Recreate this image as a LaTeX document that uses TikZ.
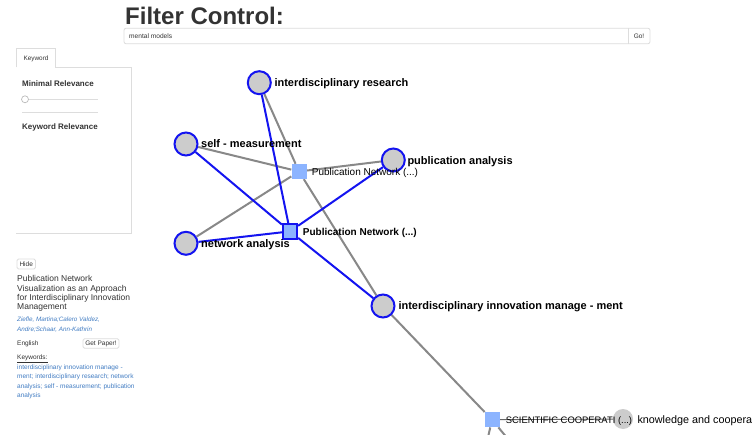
\documentclass[tikz,border=0pt]{standalone}
\usepackage{fontspec}
\setmainfont{Liberation Sans}
\definecolor{nodeblue}{RGB}{20,20,240}
\definecolor{edgegray}{RGB}{136,136,136}
\definecolor{nodefill}{RGB}{204,204,204}
\definecolor{pubfill}{RGB}{140,180,255}
\definecolor{panelline}{RGB}{221,221,221}
\definecolor{txt}{RGB}{51,51,51}
\definecolor{linkblue}{RGB}{66,125,195}
\newcommand\myfs[1]{\fontsize{#1}{#1}\selectfont}
\pgfdeclarelayer{bglayer}
\pgfdeclarelayer{edgelayer}
\pgfsetlayers{bglayer,edgelayer,main}
\tikzset{
  kw/.style={circle, draw=nodeblue, line width=2pt, fill=nodefill, minimum size=23pt, inner sep=0pt},
  pubA/.style={rectangle, fill=pubfill, minimum size=15pt, inner sep=0pt},
  pubB/.style={rectangle, fill=pubfill, draw=nodeblue, line width=1.8pt, minimum size=14.5pt, inner sep=0pt},
  kwlabel/.style={anchor=base west, inner sep=0pt, font=\myfs{11}\bfseries},
  publabel/.style={anchor=base west, inner sep=0pt, font=\myfs{10}},
  publabelb/.style={anchor=base west, inner sep=0pt, font=\myfs{10}\bfseries},
  blueedge/.style={draw=nodeblue, line width=2pt},
  grayedge/.style={draw=edgegray, line width=2pt},
  thinedge/.style={draw=black!60, line width=0.9pt},
  side/.style={anchor=base west, inner sep=0pt, text=txt},
  uibox/.style={draw=panelline, line width=0.8pt},
}
\begin{document}
\begin{tikzpicture}[x=1pt,y=-1pt]
\useasboundingbox (0,0) rectangle (752,435);
\begin{pgfonlayer}{bglayer}
\fill[white] (0,0) rectangle (752,435);
\end{pgfonlayer}
\clip (0,0) rectangle (752,435);

% ---- header ----
\node[side, font=\myfs{24}\bfseries] (title) at (125,24.5) {Filter Control:};
\draw[uibox, rounded corners=2pt] (124,28.3) rectangle (650,43.7);
\draw[uibox] (628,28.3) -- (628,43.7);
\node[anchor=west, inner sep=0pt, text=txt, font=\myfs{6.6}] (query) at (129,36) {mental models};
\node[inner sep=0pt, text=txt, font=\myfs{6.5}] (go) at (639,36) {Go!};

% ---- side panel ----
\draw[uibox] (16,67.3) -- (16,48.3) -- (55.7,48.3) -- (55.7,67.3) -- (131.7,67.3) -- (131.7,233) -- (16,233);
\node[inner sep=0pt, text=txt, font=\myfs{6.4}] (tab) at (36,58.5) {Keyword};
\node[side, font=\myfs{8}\bfseries] (minrel) at (22,87) {Minimal Relevance};
\draw[draw=panelline, line width=1.3pt] (25,99.3) -- (98,99.3);
\draw[draw=black!30, fill=white, line width=0.6pt] (25,99.3) circle (3.5);
\draw[uibox] (22,112) -- (98,112);
\node[side, font=\myfs{8}\bfseries] (kwrel) at (22,129.5) {Keyword Relevance};

% ---- paper details ----
\draw[uibox, rounded corners=1.5pt] (17,259) rectangle (35.5,269);
\node[inner sep=0pt, text=txt, font=\myfs{6.5}] (hide) at (26.2,264) {Hide};
\node[side, font=\myfs{8.5}] (pt1) at (17,282) {Publication Network};
\node[side, font=\myfs{8.5}] (pt2) at (17,291.2) {Visualization as an Approach};
\node[side, font=\myfs{8.5}] (pt3) at (17,300.4) {for Interdisciplinary Innovation};
\node[side, font=\myfs{8.5}] (pt4) at (17,309.6) {Management};
\node[side, text=linkblue, font=\myfs{6.3}\itshape] (au1) at (17,322) {Ziefle, Martina;Calero Valdez,};
\node[side, text=linkblue, font=\myfs{6.3}\itshape] (au2) at (17,331.5) {Andre;Schaar, Ann-Kathrin};
\node[side, font=\myfs{6.5}] (lang) at (17,345) {English};
\draw[uibox, rounded corners=1.5pt] (83,338.7) rectangle (119,348.3);
\node[inner sep=0pt, text=txt, font=\myfs{6.5}] (getpaper) at (101,343.5) {Get Paper!};
\node[side, font=\myfs{6.5}] (kwhead) at (17,359.5) {\underline{Keywords:}};
\node[side, text=linkblue, font=\myfs{6.5}] (kw1) at (17,369.5) {interdisciplinary innovation manage -};
\node[side, text=linkblue, font=\myfs{6.5}] (kw2) at (17,378.8) {ment; interdisciplinary research; network};
\node[side, text=linkblue, font=\myfs{6.5}] (kw3) at (17,388.1) {analysis; self - measurement; publication};
\node[side, text=linkblue, font=\myfs{6.5}] (kw4) at (17,397.4) {analysis};

% ---- graph nodes ----
\node[kw] (ir) at (259.3,82.7) {};
\node[kw] (sm) at (186,144) {};
\node[kw] (pa) at (393.3,160) {};
\node[kw] (na) at (186,243.3) {};
\node[kw] (iim) at (383,306) {};
\node[pubA] (p1) at (299,171.5) {};
\node[pubB] (p2) at (290,231.4) {};
\node[pubA] (sc) at (492,419.7) {};
\node[circle, fill=nodefill, minimum size=20pt, inner sep=0pt] (kc) at (623,419) {};
\coordinate (off1) at (488.3,436);
\coordinate (off2) at (505.5,436);

% ---- edges ----
\begin{pgfonlayer}{edgelayer}
\draw[grayedge] (p1) -- (ir);
\draw[grayedge] (p1) -- (sm);
\draw[grayedge] (p1) -- (na);
\draw[grayedge] (p1) -- (pa);
\draw[grayedge] (p1) -- (iim);
\draw[grayedge] (iim) -- (sc);
\draw[grayedge] (sc) -- (off1);
\draw[grayedge] (sc) -- (off2);
\draw[thinedge] (sc) -- (kc);
\draw[blueedge] (p2) -- (ir);
\draw[blueedge] (p2) -- (sm);
\draw[blueedge] (p2) -- (na);
\draw[blueedge] (p2) -- (pa);
\draw[blueedge] (p2) -- (iim);
\end{pgfonlayer}

% ---- labels ----
\node[kwlabel] (irl) at (274.3,86.7) {interdisciplinary research};
\node[kwlabel] (sml) at (201,148) {self - measurement};
\node[kwlabel] (pal) at (407.3,164.5) {publication analysis};
\node[kwlabel] (nal) at (201,248) {network analysis};
\node[kwlabel] (iiml) at (398.3,310) {interdisciplinary innovation manage - ment};
\node[publabel] (p1l) at (311.7,175.5) {Publication Network (...)};
\node[publabelb] (p2l) at (302.7,235.8) {Publication Network (...)};
\node[anchor=base west, inner sep=0pt, font=\myfs{9.4}] (scl) at (505.7,423.3) {SCIENTIFIC COOPERATI (...)};
\node[anchor=base west, inner sep=0pt, font=\myfs{10.8}] (kcl) at (637.3,423.3) {knowledge and coopera};
\end{tikzpicture}
\end{document}
